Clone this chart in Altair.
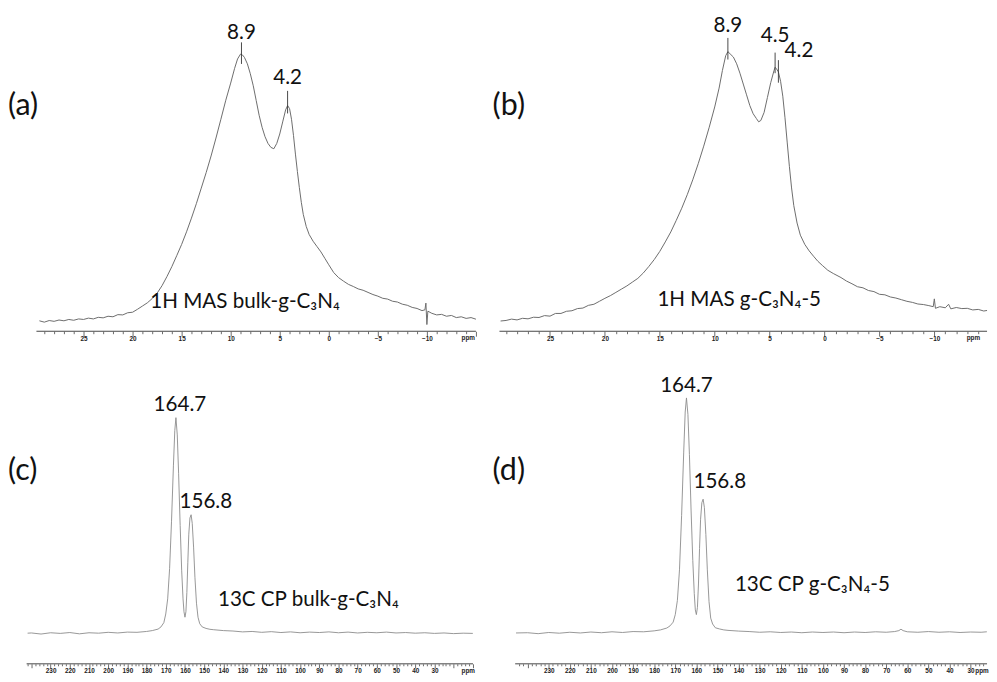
import altair as alt
import pandas as pd

# ---------------- data ----------------
# (a) 1H MAS bulk-g-C3N4
a_ppm = [29.5, 29.0, 28.5, 28.0, 27.5, 27.0, 26.5, 26.0, 25.5, 25.0, 24.5, 24.0, 23.5, 23.0, 22.5, 22.0,
         21.5, 21.0, 20.5, 20.0, 19.5, 19.0, 18.5, 18.0, 17.5, 17.0, 16.5, 16.0, 15.5, 15.0, 14.5, 14.0,
         13.5, 13.0, 12.5, 12.0, 11.5, 11.0, 10.5, 10.0, 9.6, 9.3, 9.0, 8.8, 8.6, 8.3, 8.0, 7.7, 7.4, 7.1,
         6.8, 6.5, 6.2, 5.9, 5.6, 5.3, 5.0, 4.7, 4.4, 4.2, 4.0, 3.8, 3.6, 3.4, 3.2, 3.0, 2.8, 2.6, 2.3,
         2.0, 1.6, 1.2, 0.8, 0.4, 0.0, -0.5, -1.0, -1.5, -2.0, -2.5, -3.0, -3.5, -4.0, -4.5, -5.0, -5.5,
         -6.0, -6.5, -7.0, -7.5, -8.0, -8.5, -9.0, -9.5, -9.8, -9.9, -10.0, -10.1, -10.5, -11.0, -11.5,
         -12.0, -12.5, -13.0, -13.5, -14.0, -14.5, -15.0]
a_int = [0.3, -0.2, 0.4, 0.1, 0.6, 0.3, 0.8, 0.5, 1.0, 0.8, 1.3, 1.0, 1.6, 1.4, 2.0, 1.8,
         2.6, 2.5, 3.3, 3.5, 4.6, 5.8, 7.0, 8.6, 10.6, 13.4, 16.8, 20.5, 24.6, 28.8, 33.5, 38.6,
         44.0, 49.8, 55.6, 61.8, 68.5, 75.5, 82.6, 89.0, 94.5, 98.0, 99.8, 99.5, 98.6, 96.2, 92.5, 88.0, 82.5, 77.0,
         72.5, 69.0, 66.5, 65.0, 64.5, 66.5, 70.0, 74.5, 79.0, 80.6, 79.5, 75.5, 69.5, 62.5, 56.0, 50.0, 44.5, 40.0, 35.5,
         32.5, 30.0, 28.0, 26.0, 23.6, 21.2, 18.3, 16.4, 15.1, 13.9, 13.1, 12.2, 11.7, 10.9, 10.1, 9.5, 8.7,
         8.4, 7.6, 7.3, 6.5, 6.1, 5.3, 4.9, 4.1, 4.4, 6.9, -1.1, 3.9, 3.1, 2.5, 2.7,
         2.0, 2.3, 1.5, 1.8, 1.2, 1.5, 0.9]

# (b) 1H MAS g-C3N4-5
b_ppm = [29.5, 29.0, 28.5, 28.0, 27.5, 27.0, 26.5, 26.0, 25.5, 25.0, 24.5, 24.0, 23.5, 23.0, 22.5, 22.0, 21.5,
         21.0, 20.5, 20.0, 19.5, 19.0, 18.5, 18.0, 17.5, 17.0, 16.5, 16.0, 15.5, 15.0, 14.5, 14.0, 13.5,
         13.0, 12.5, 12.0, 11.5, 11.0, 10.5, 10.0, 9.6, 9.3, 9.0, 8.8, 8.6, 8.3, 8.0, 7.7, 7.4, 7.1, 6.8,
         6.5, 6.2, 6.0, 5.8, 5.5, 5.2, 4.9, 4.6, 4.5, 4.4, 4.2, 4.0, 3.8, 3.6, 3.4, 3.2, 3.0, 2.8, 2.5,
         2.2, 1.8, 1.4, 1.0, 0.6, 0.2, -0.3, -0.8, -1.5, -2.0, -2.5, -3.0, -3.5, -4.0, -4.5, -5.0, -5.5,
         -6.0, -6.5, -7.0, -7.5, -8.0, -8.5, -9.0, -9.5, -9.9, -10.0, -10.1, -10.5, -11.0, -11.3, -11.5,
         -12.0, -12.5, -13.0, -13.5, -14.0, -14.5, -14.8]
b_int = [0.2, 0.4, 0.9, 0.6, 1.2, 1.0, 1.6, 1.5, 2.2, 2.0, 3.0, 3.0, 3.8, 4.0, 4.8, 5.0, 6.0,
         6.4, 7.5, 8.6, 9.6, 10.8, 12.0, 13.2, 14.6, 16.0, 18.0, 20.4, 23.0, 26.0, 29.5, 33.2, 37.5,
         42.0, 47.0, 52.5, 58.5, 65.0, 72.0, 79.5, 86.5, 93.0, 98.5, 100.0, 99.2, 98.0, 95.5, 92.0, 88.0, 84.0, 80.0,
         77.0, 75.2, 74.0, 74.5, 77.5, 83.0, 88.5, 93.0, 94.2, 93.8, 92.5, 89.0, 83.5, 75.5, 66.5, 57.5, 49.5, 43.0, 36.5,
         32.0, 28.6, 26.2, 24.2, 22.3, 20.8, 19.0, 17.8, 16.3, 15.0, 14.0, 12.9, 12.5, 11.5, 11.1, 10.1, 9.9,
         9.1, 8.7, 8.1, 7.5, 7.1, 6.5, 6.3, 5.9, 5.5, 8.4, 4.9, 5.5, 5.1, 6.4, 4.7,
         5.2, 4.8, 4.9, 4.3, 4.5, 3.9, 4.1]

# (c) 13C CP bulk-g-C3N4
c_ppm = [242, 240, 235, 230, 225, 220, 215, 210, 205, 200, 195, 190, 185, 180, 177, 174, 172.5, 171, 170, 169,
         168, 167, 166, 165.3, 164.7, 164.0, 163.3, 162.5, 161.7, 161.0, 160.5, 160.0, 159.5, 159.0, 158.5,
         158.0, 157.4, 156.8, 156.2, 155.5, 154.8, 154.0, 153.2, 152.3, 151, 149, 147, 145, 140, 135, 130,
         125, 120, 115, 110, 105, 100, 95, 90, 85, 80, 75, 70, 65, 60, 55, 50, 45, 40, 35, 30, 25, 20, 15, 10]
c_int = [0.1, 0.2, -0.3, 0.3, 0.0, 0.4, -0.2, 0.3, 0.1, 0.5, 0.2, 0.6, 0.5, 0.9, 1.3, 2.0, 3.0, 5.0, 9.0, 16.0,
         30.0, 52.0, 78.0, 94.0, 100.0, 92.0, 74.0, 50.0, 29.0, 16.0, 10.0, 7.5, 10.0, 19.0, 33.0,
         46.0, 53.5, 55.0, 51.0, 40.0, 26.0, 14.0, 7.5, 4.5, 3.0, 2.3, 1.9, 1.7, 1.3, 1.1, 0.7,
         0.9, 0.5, 0.8, 0.4, 0.7, 0.3, 0.6, 0.4, 0.7, 0.3, 0.6, 0.2, 0.5, 0.3, 0.6, 0.2, 0.4, 0.1, 0.3, 0.0, 0.2, -0.1, 0.1, 0.0]

# (d) 13C CP g-C3N4-5
d_ppm = [245.5, 240, 235, 230, 225, 220, 215, 210, 205, 200, 195, 190, 185, 180, 177, 174, 172.5, 171, 170, 169,
         168, 167, 166, 165.3, 164.7, 164.0, 163.3, 162.5, 161.7, 161.0, 160.5, 160.0, 159.5, 159.0, 158.5,
         158.0, 157.4, 156.8, 156.2, 155.5, 154.8, 154.0, 153.2, 152.3, 151, 149, 147, 145, 140, 135, 130,
         125, 120, 115, 110, 105, 100, 95, 90, 85, 80, 75, 70, 66, 64, 63, 62, 60, 55, 50, 45, 40, 35, 30,
         25, 22.3]
d_int = [0.2, 0.3, -0.1, 0.4, 0.1, 0.5, 0.2, 0.6, 0.3, 0.7, 0.4, 0.8, 0.7, 1.1, 1.5, 2.3, 3.2, 4.8, 8.0, 14.0,
         27.0, 50.0, 77.0, 94.0, 100.0, 93.0, 76.0, 52.0, 31.0, 17.0, 10.0, 8.0, 11.0, 21.0, 36.0,
         48.5, 55.5, 57.0, 53.5, 42.0, 27.0, 13.5, 6.5, 4.0, 2.4, 1.9, 1.5, 1.3, 1.0, 0.8, 0.5,
         0.7, 0.4, 0.6, 0.3, 0.6, 0.4, 0.6, 0.3, 0.6, 0.4, 0.7, 0.5, 0.8, 1.2, 1.8, 1.2, 0.7, 0.5, 0.8, 0.5, 0.7, 0.4, 0.6,
         0.5, 0.7]

# peak annotations: label, ppm, intensity
a_peaks = [("8.9", 8.9, 99.8), ("4.2", 4.2, 80.6)]
b_peaks = [("8.9", 8.8, 100.0), ("4.5", 4.5, 94.2), ("4.2", 4.2, 92.5)]
c_peaks = [("164.7", 164.7, 100.0), ("156.8", 156.8, 55.0)]
d_peaks = [("164.7", 164.7, 100.0), ("156.8", 156.8, 57.0)]

FONT = "Lato, 'Noto Sans', sans-serif"
AXFONT = "Liberation Sans"
AXCOL = "#444"


def panel(ppm, inten, xdom, xrange, ydom, w, h, step, lab_test, major_test, major_size, minor_size, lpad,
          peaks, peak_style, rules, title, tx, ty, letter, ly, ppm_x, ppm_align, color, sw):
    df = pd.DataFrame({"ppm": ppm, "I": inten})
    lo, hi = xdom
    ticks = [v for v in range(-300, 301, step) if lo <= v <= hi]
    axis = alt.Axis(
        values=ticks,
        labelExpr=f"({lab_test}) ? datum.label : ''",
        tickSize={"condition": {"test": major_test, "value": major_size}, "value": minor_size},
        grid=False, title=None, domain=False, tickColor=AXCOL,
        tickWidth=0.8, labelFont=AXFONT, labelFontSize=6.5, labelFontWeight="bold",
        labelColor="#222", labelPadding=lpad, labelFlush=False, labelOverlap=False, labelBound=False,
    )
    x = alt.X("ppm:Q", scale=alt.Scale(domain=xdom, range=xrange, reverse=True, nice=False, zero=False),
              axis=axis)
    y = alt.Y("I:Q", scale=alt.Scale(domain=ydom, nice=False, zero=False), axis=None)
    layers = [alt.Chart(df).mark_line(color=color, strokeWidth=sw).encode(x=x, y=y)]
    # axis base line, drawn only under the scale's range
    layers.append(
        alt.Chart(pd.DataFrame({"t": [0]})).mark_rule(color=AXCOL, strokeWidth=1)
        .encode(x=alt.value(xrange[0]), x2=alt.value(xrange[1]), y=alt.value(h))
    )
    for (lab, p, i), (dx, dy, up, down) in zip(peaks, peak_style):
        pdf = pd.DataFrame({"ppm": [p], "I": [i], "lab": [lab]})
        if rules:
            layers.append(
                alt.Chart(pdf).mark_rule(color="#333", strokeWidth=0.9, yOffset=-up, y2Offset=down)
                .encode(x=x, y=y, y2=alt.Y2("I:Q"))
            )
        layers.append(
            alt.Chart(pdf).mark_text(font=FONT, fontSize=21, color="#111", dx=dx, dy=dy)
            .encode(x=x, y=y, text="lab:N")
        )
    layers.append(
        alt.Chart(pd.DataFrame({"t": [title]})).mark_text(font=FONT, fontSize=21, color="#111", align="left")
        .encode(x=alt.value(tx), y=alt.value(ty), text="t:N")
    )
    layers.append(
        alt.Chart(pd.DataFrame({"t": [letter]})).mark_text(font=FONT, fontSize=31, color="#111", align="left")
        .encode(x=alt.value(0), y=alt.value(ly), text="t:N")
    )
    layers.append(
        alt.Chart(pd.DataFrame({"t": ["ppm"]})).mark_text(font=AXFONT, fontSize=6.5, fontWeight="bold",
                                                          color="#222", align=ppm_align)
        .encode(x=alt.value(ppm_x), y=alt.value(h + 7), text="t:N")
    )
    return alt.layer(*layers).properties(width=w, height=h)


h_lab = "datum.value % 5 == 0 && datum.value >= -10 && datum.value <= 25"
h_major = "datum.value % 5 == 0"
c_lab = "datum.value % 10 == 0 && datum.value >= 30 && datum.value <= 230"
c_major = "datum.value % 10 == 0"

# panel origins: (a),(c) at page x 8; (b),(d) at page x 500
pa = panel(a_ppm, a_int, [-15.0, 29.8], [29, 477], [-3.6, 111.7], 477, 315, 1, h_lab, h_major, 5, 2.5, -1,
           a_peaks, [(0, -21, 12, 10), (0, -28, 15, 8)], True,
           "1H MAS bulk-g-C\u2083N\u2084", 145, 285, "(a)", 86, 476, "right", "#6b6b6b", 1.0)
pb = panel(b_ppm, b_int, [-14.8, 29.6], [7, 504], [-3.6, 110.9], 504, 315, 1, h_lab, h_major, 5, 2.5, -1,
           b_peaks, [(0, -26, 14, 8), (0, -32, 15, 6), (21, -21, 12, 11)], True,
           "1H MAS g-C\u2083N\u2084-5", 168, 283, "(b)", 86, 497, "right", "#6b6b6b", 1.0)
pc = panel(c_ppm, c_int, [9.9, 242.5], [19, 474], [-14.1, 120.5], 474, 296, 2, c_lab, c_major, 4, 2, 0,
           c_peaks, [(4, -13, 0, 0), (15, -13, 0, 0)], False,
           "13C CP bulk-g-C\u2083N\u2084", 214, 231, "(c)", 100, 476, "right", "#8a8a8a", 0.9)
pd_ = panel(d_ppm, d_int, [22.2, 245.9], [23, 504], [-12.9, 110.4], 504, 296, 2, c_lab, c_major, 4, 2, 0,
            d_peaks, [(0, -12, 0, 0), (17, -17, 0, 0)], False,
            "13C CP g-C\u2083N\u2084-5", 247, 216, "(d)", 100, 492, "left", "#8a8a8a", 0.9)

row1 = alt.hconcat(pa, pb, spacing=15)
row2 = alt.hconcat(pc, pd_, spacing=18)
chart = (
    alt.vconcat(row1, row2, spacing=32)
    .properties(padding=0)
    .configure(background="white")
    .configure_view(stroke=None, strokeWidth=0)
)

chart.save("out.html", embed_options={"renderer": "svg", "actions": False})
